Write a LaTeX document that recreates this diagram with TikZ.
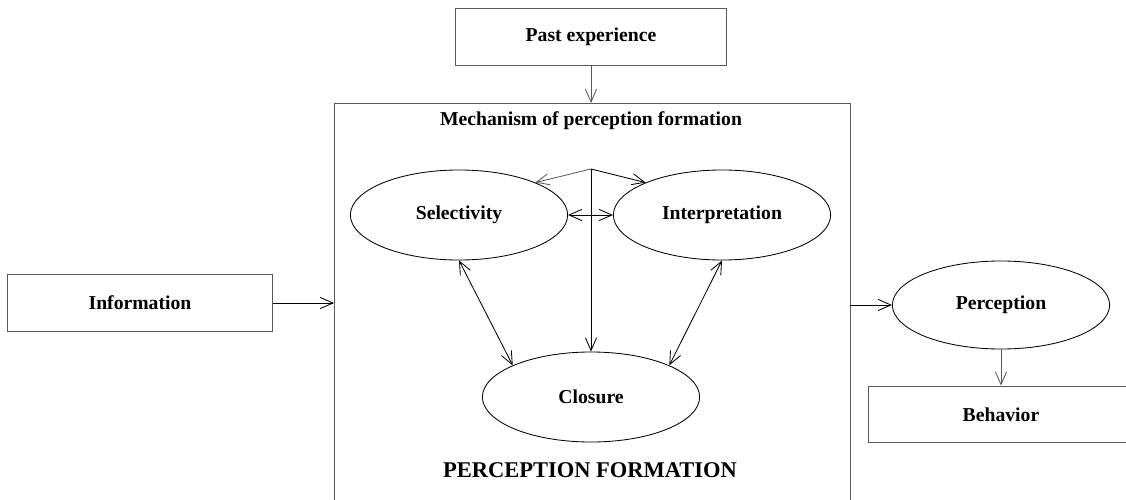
\documentclass[tikz,border=0pt]{standalone}
\usepackage{fontspec}
\setmainfont{Liberation Serif}
\usetikzlibrary{arrows.meta, shapes.geometric}

\begin{document}
\begin{tikzpicture}[
	> = {Straight Barb[length = 3.2mm, width = 2.8mm]},
	x = 0.025cm, y = -0.025cm,
	font = \fontsize{14}{16}\selectfont\bfseries,
	box/.style = {draw = black!65, line width = 0.7pt, minimum height = 1.42cm, inner sep = 0},
	oval/.style = {draw, ellipse, line width = 0.6pt, minimum width = 5.43cm, minimum height = 2.25cm, inner sep = 0}
]

	\useasboundingbox (0, 0) rectangle (1126, 500);
	\clip (0, 0) rectangle (1126, 500);

	\node [box, minimum width = 6.75cm] (past) at (591, 37) {Past experience};
	\node [box, minimum width = 6.6cm] (info) at (140, 303) {Information};
	\node [box, minimum width = 6.6cm] (behav) at (1001, 414.5) {Behavior};

	\draw [black!65, line width = 0.7pt] (334, 505) -- (334, 103) -- (850, 103) -- (850, 505);
	\coordinate (boxtop) at (591, 103);
	\coordinate (boxleft) at (334, 303);
	\coordinate (boxright) at (850, 305);
	\coordinate (fan) at (591, 169);

	\node (mech) at (591, 121) {Mechanism of perception formation};
	\node [font = \fontsize{16}{18}\selectfont\bfseries] (pf) at (590, 470) {PERCEPTION FORMATION};

	\node [oval] (sel) at (459, 215) {Selectivity};
	\node [oval] (interp) at (722, 215) {Interpretation};
	\node [oval] (clos) at (591, 397) {Closure};
	\node [oval, minimum height = 2.2cm] (perc) at (1001, 305) {Perception};

	\begin{scope}[->, line width = 0.6pt]
		\draw [black!65] (past) -- (boxtop);
		\draw (info) -- (boxleft);
		\draw (boxright) -- (perc);
		\draw [black!65] (perc) -- (behav);
		\draw [black!65] (fan) -- (sel.23);
		\draw (fan) -- (interp.157);
		\draw (fan) -- (clos);
	\end{scope}

	\begin{scope}[<->, line width = 0.6pt]
		\draw (sel) -- (interp);
		\draw (sel.south) -- (clos.158);
		\draw (interp.south) -- (clos.22);
	\end{scope}

\end{tikzpicture}
\end{document}
